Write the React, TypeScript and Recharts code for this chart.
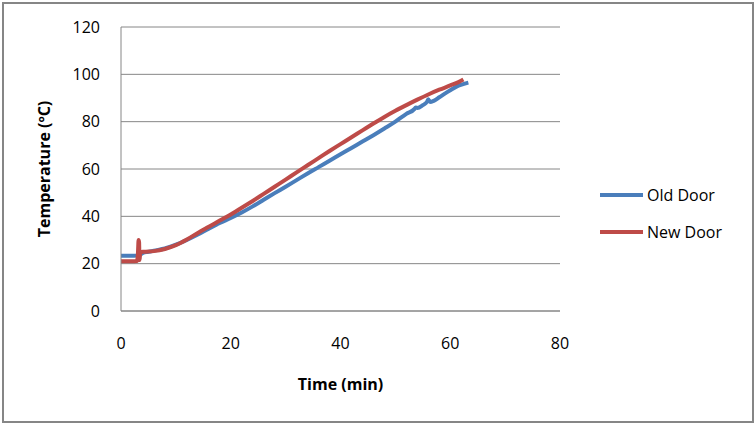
import { LineChart, Line, XAxis, YAxis, CartesianGrid } from 'recharts';

// minutes / ºC
const oldDoorTime = [
  0, 1, 2, 2.8, 3.5, 4, 5, 6, 8, 10, 12, 14, 16, 18, 20, 22, 24, 26, 28, 30, 32, 34, 36, 38, 40, 42, 44,
  46, 48, 50, 52, 53.5, 53.7, 54, 55, 55.8, 56, 56.3, 57, 58, 60, 61.5, 62.5, 63.3,
];
const oldDoorTemp = [
  23.3, 23.3, 23.3, 23.4, 23.8, 24.5, 25, 25.5, 26.4, 28, 30, 32.3, 34.8, 37.2, 39.3, 41.6, 44.2, 47,
  49.8, 52.5, 55.3, 58.1, 60.8, 63.5, 66.2, 68.9, 71.6, 74.3, 77.1, 80, 83.3, 85.4, 86, 85.8, 87, 88.5,
  89.5, 88.3, 88.8, 90.3, 93.3, 95.2, 96, 96.5,
];

const newDoorTime = [
  0, 1, 2, 2.9, 3.1, 3.2, 3.3, 3.35, 3.4, 3.5, 4, 5, 6, 8, 10, 12, 14, 16, 18, 20, 22, 24, 26, 28, 30,
  32, 34, 36, 38, 40, 42, 44, 46, 48, 50, 52, 54, 56, 58, 60, 61.5, 62.4,
];
const newDoorTemp = [
  21, 21, 21, 21.1, 25, 30, 29, 23, 21.5, 24.8, 25, 25.1, 25.3, 26.2, 27.8, 30.2, 33, 35.6, 38.2, 40.8,
  43.6, 46.5, 49.5, 52.5, 55.5, 58.6, 61.6, 64.6, 67.6, 70.5, 73.4, 76.3, 79.2, 82, 84.6, 87, 89.3, 91.5,
  93.5, 95.3, 96.7, 97.8,
];

const xTicks = [0, 20, 40, 60, 80];
const yTicks = [0, 20, 40, 60, 80, 100, 120];

const BLUE = '#4A7EBB';
const RED = '#BE4B48';
const AXIS = '#868686';
const FONT = '"Open Sans", sans-serif';

const oldDoor = oldDoorTime.map((t, i) => ({ t, v: oldDoorTemp[i] }));
const newDoor = newDoorTime.map((t, i) => ({ t, v: newDoorTemp[i] }));

const legendItems = [
  { name: 'Old Door', color: BLUE },
  { name: 'New Door', color: RED },
];

function DoorLegend() {
  return (
    <div
      style={{
        position: 'absolute',
        left: 600,
        top: 176,
        fontFamily: FONT,
        fontSize: 16,
        color: '#000',
      }}
    >
      {legendItems.map((it) => (
        <div key={it.name} style={{ display: 'flex', alignItems: 'center', height: 37 }}>
          <div style={{ width: 43, height: 4, background: it.color, marginRight: 4 }} />
          <span>{it.name}</span>
        </div>
      ))}
    </div>
  );
}

export default function App() {
  return (
    <div style={{ position: 'absolute', left: 0, top: 0, width: 756, height: 426, background: '#fff' }}>
      <div
        style={{
          position: 'absolute',
          left: 2,
          top: 2,
          width: 752,
          height: 421,
          border: `2px solid ${AXIS}`,
          boxSizing: 'border-box',
        }}
      />
      <LineChart
        width={756}
        height={426}
        margin={{ top: 27, right: 196, left: 41, bottom: 55 }}
        style={{ position: 'absolute', left: 0, top: 0, fontFamily: FONT }}
      >
        <CartesianGrid stroke={AXIS} vertical={false} />
        <XAxis
          dataKey="t"
          type="number"
          domain={[0, 80]}
          ticks={xTicks}
          allowDuplicatedCategory={false}
          height={60}
          axisLine={{ stroke: AXIS }}
          tickLine={false}
          tickSize={0}
          tickMargin={27}
          tick={{ fill: '#000', fontSize: 16 }}
          label={{
            value: 'Time (min)',
            position: 'bottom',
            offset: 8,
            style: { fill: '#000', fontSize: 16, fontWeight: 'bold' },
          }}
        />
        <YAxis
          dataKey="v"
          type="number"
          domain={[0, 120]}
          ticks={yTicks}
          width={80}
          axisLine={{ stroke: AXIS }}
          tickLine={false}
          tickSize={0}
          tickMargin={21}
          tick={{ fill: '#000', fontSize: 16 }}
          label={{
            value: 'Temperature (ºC)',
            angle: -90,
            position: 'insideLeft',
            offset: 3,
            style: { fill: '#000', fontSize: 16, fontWeight: 'bold', textAnchor: 'middle' },
          }}
        />
        <Line
          data={oldDoor}
          dataKey="v"
          name="Old Door"
          type="monotone"
          stroke={BLUE}
          strokeWidth={4}
          dot={false}
          isAnimationActive={false}
        />
        <Line
          data={newDoor}
          dataKey="v"
          name="New Door"
          type="monotone"
          stroke={RED}
          strokeWidth={4}
          dot={false}
          isAnimationActive={false}
        />
      </LineChart>
      <DoorLegend />
    </div>
  );
}
